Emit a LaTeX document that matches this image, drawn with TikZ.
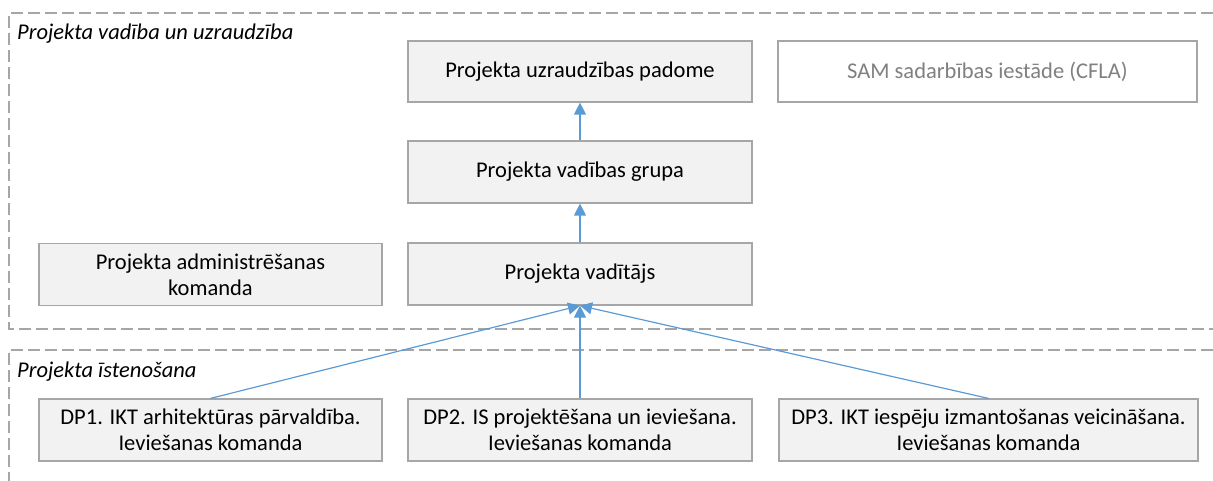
\documentclass[tikz,border=0pt]{standalone}
\usepackage{fontspec}
\setmainfont{Carlito}
\usetikzlibrary{arrows.meta}
\definecolor{boxfill}{HTML}{F2F2F2}
\definecolor{boxline}{HTML}{A6A6A6}
\definecolor{frameline}{HTML}{A6A6A6}
\definecolor{arrowblue}{HTML}{5B9BD5}
\definecolor{graytext}{HTML}{808080}
\tikzset{
  box/.style={draw=boxline, fill=boxfill, line width=1.2pt, inner sep=0pt, align=center,
    font=\fontsize{22.5}{26}\selectfont, text=black},
  greybox/.style={box, fill=white, text=graytext},
  frame/.style={draw=frameline, line width=1.2pt, dash pattern=on 12pt off 5pt},
  framelabel/.style={anchor=base west, inner sep=0pt, font=\fontsize{22.5}{26}\selectfont\itshape},
  link/.style={draw=arrowblue, line width=1.2pt, -{Triangle[length=12pt,width=12pt]}}
}
\begin{document}
\begin{tikzpicture}[x=1pt,y=-1pt]
\useasboundingbox (0,0) rectangle (1213,481);
% frames
\draw[frame] (1230,13) -- (9,13) -- (9,329) -- (1230,329);
\draw[frame] (1230,350) -- (9,350) -- (9,495);
\node[framelabel] (lab1) at (17,40) {Projekta vadība un uzraudzība};
\node[framelabel] (lab2) at (17,377) {Projekta īstenošana};
% boxes
\node[box, minimum width=344pt, minimum height=61pt] (pup) at (580,71.5) {Projekta uzraudzības padome};
\node[greybox, minimum width=419pt, minimum height=61pt] (sam) at (987.5,71.5) {SAM sadarbības iestāde (CFLA)};
\node[box, minimum width=344pt, minimum height=62pt] (pvg) at (580,172) {Projekta vadības grupa};
\node[box, minimum width=344pt, minimum height=62pt] (pv) at (580,274) {Projekta vadītājs};
\node[box, minimum width=343pt, minimum height=62pt] (adm) at (210.5,274.5) {Projekta administrēšanas\\komanda};
\node[box, minimum width=343pt, minimum height=62pt] (dp1) at (210.5,430) {DP1. IKT arhitektūras pārvaldība.\\Ieviešanas komanda};
\node[box, minimum width=344pt, minimum height=62pt] (dp2) at (580,430) {DP2. IS projektēšana un ieviešana.\\Ieviešanas komanda};
\node[box, minimum width=419pt, minimum height=62pt] (dp3) at (988.5,430) {DP3. IKT iespēju izmantošanas veicināšana.\\Ieviešanas komanda};
% connectors
\draw[link] (pvg.north) -- (pup.south);
\draw[link] (pv.north) -- (pvg.south);
\draw[link] (dp1.north) -- (pv.south);
\draw[link] (dp2.north) -- (pv.south);
\draw[link] (dp3.north) -- (pv.south);
\end{tikzpicture}
\end{document}
